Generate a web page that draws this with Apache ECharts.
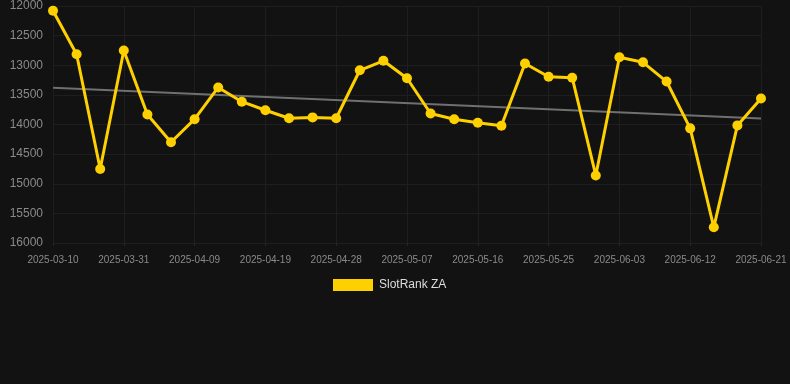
<!DOCTYPE html>
<html>
<head>
<meta charset="utf-8">
<script src="https://cdn.jsdelivr.net/npm/echarts@6/dist/echarts.min.js"></script>
<style>
  html, body { margin: 0; padding: 0; background: #121212; }
  #chart { width: 790px; height: 384px; }
</style>
</head>
<body>
<div id="chart"></div>
<script>
// dates (category axis, one label every third point)
const dates = [
  '2025-03-10', '2025-03-17', '2025-03-24', '2025-03-31', '2025-04-03', '2025-04-06',
  '2025-04-09', '2025-04-13', '2025-04-16', '2025-04-19', '2025-04-22', '2025-04-25',
  '2025-04-28', '2025-05-01', '2025-05-04', '2025-05-07', '2025-05-10', '2025-05-13',
  '2025-05-16', '2025-05-19', '2025-05-22', '2025-05-25', '2025-05-28', '2025-05-31',
  '2025-06-03', '2025-06-06', '2025-06-09', '2025-06-12', '2025-06-15', '2025-06-18',
  '2025-06-21'
];
// rank values (lower is better, axis inverted)
const rankZA = [
  12080, 12815, 14750, 12750, 13830, 14300,
  13910, 13375, 13615, 13760, 13895, 13880,
  13895, 13085, 12925, 13220, 13815, 13910,
  13970, 14020, 12970, 13195, 13210, 14860,
  12865, 12950, 13275, 14065, 15735, 14015,
  13560
];
// trend line end points
const trendStart = 13380;
const trendEnd = 13900;
const yTicks = { min: 12000, max: 16000, step: 500 };

const chart = echarts.init(document.getElementById('chart'));
chart.setOption({
  backgroundColor: '#121212',
  animation: false,
  grid: { left: 53, right: 29, top: 6, bottom: 141 },
  legend: {
    top: 274,
    left: 328,
    data: ['SlotRank ZA'],
    itemWidth: 40,
    itemHeight: 12,
    itemGap: 10,
    icon: 'rect',
    textStyle: { color: '#dddddd', fontSize: 12, padding: [0, 0, 0, 1], fontFamily: 'Liberation Sans, Arial, sans-serif' }
  },
  xAxis: {
    type: 'category',
    data: dates,
    boundaryGap: false,
    axisLine: { show: false },
    axisTick: { show: true, interval: 2, length: 3, lineStyle: { color: '#262626' } },
    axisLabel: {
      interval: 2,
      color: '#8a8a8a',
      fontSize: 10,
      margin: 12,
      fontFamily: 'Liberation Sans, Arial, sans-serif'
    },
    splitLine: { show: true, interval: 2, lineStyle: { color: '#1e1e1e', width: 1 } }
  },
  yAxis: {
    type: 'value',
    inverse: true,
    min: yTicks.min,
    max: yTicks.max,
    interval: yTicks.step,
    axisLine: { show: false },
    axisTick: { show: false },
    axisLabel: {
      color: '#8a8a8a',
      fontSize: 12,
      margin: 10,
      formatter: v => String(v),
      fontFamily: 'Liberation Sans, Arial, sans-serif'
    },
    splitLine: { lineStyle: { color: '#1e1e1e', width: 1 } }
  },
  series: [
    {
      name: 'Trend',
      type: 'line',
      data: [[0, trendStart], [dates.length - 1, trendEnd]],
      symbol: 'none',
      silent: true,
      lineStyle: { color: '#707070', width: 2 },
      z: 1
    },
    {
      name: 'SlotRank ZA',
      type: 'line',
      data: rankZA,
      symbol: 'circle',
      symbolSize: 10,
      itemStyle: { color: '#FFD000' },
      lineStyle: { color: '#FFD000', width: 3 },
      z: 2
    }
  ]
});
</script>
</body>
</html>
